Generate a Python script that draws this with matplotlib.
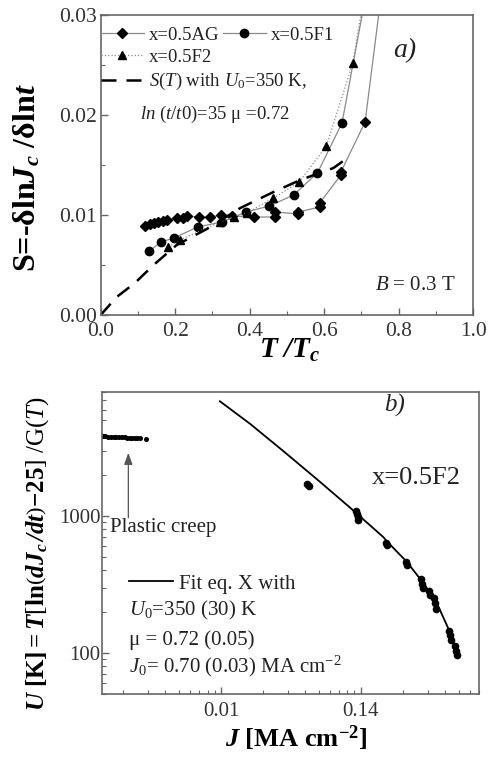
"""Creep rate S(T) and U(J) panels for the x=0.5 samples."""

import matplotlib

matplotlib.use("Agg")
import matplotlib.pyplot as plt
from matplotlib.ticker import (
    FixedFormatter,
    FixedLocator,
    LogLocator,
    MultipleLocator,
    NullFormatter,
)

plt.rcParams["font.family"] = ["Liberation Serif", "DejaVu Serif"]
plt.rcParams["mathtext.fontset"] = "custom"
plt.rcParams["mathtext.rm"] = "Liberation Serif"
plt.rcParams["mathtext.it"] = "Liberation Serif:italic"
plt.rcParams["mathtext.bf"] = "Liberation Serif:bold"
plt.rcParams["mathtext.bfit"] = "Liberation Serif:bold:italic"

# --- panel a) : S = -dlnJc/dlnt vs T/Tc
t_ag = [0.119, 0.133, 0.144, 0.155, 0.167, 0.177, 0.206, 0.220, 0.233, 0.264,
        0.294, 0.323, 0.352, 0.412, 0.469, 0.469, 0.531, 0.531, 0.588, 0.588,
        0.645, 0.645, 0.710, 0.760]
s_ag = [0.0089, 0.0091, 0.0092, 0.0093, 0.0094, 0.0095, 0.0097, 0.0097, 0.0099,
        0.0098, 0.0098, 0.0100, 0.0099, 0.0098, 0.0098, 0.0103, 0.0101, 0.0103,
        0.0108, 0.0112, 0.0140, 0.0143, 0.0193, 0.0340]

t_f1 = [0.131, 0.162, 0.197, 0.260, 0.325, 0.390, 0.453, 0.518, 0.582, 0.648, 0.722]
s_f1 = [0.0064, 0.0073, 0.0077, 0.0088, 0.0093, 0.0103, 0.0109, 0.0120, 0.0142,
        0.0192, 0.0340]

t_f2 = [0.182, 0.213, 0.321, 0.357, 0.392, 0.464, 0.533, 0.606, 0.677, 0.712]
s_f2 = [0.0068, 0.0075, 0.0093, 0.0098, 0.0102, 0.0117, 0.0133, 0.0169, 0.0252,
        0.0330]

t_model = [0.0, 0.043, 0.092, 0.142, 0.204, 0.285, 0.375, 0.464, 0.536, 0.625, 0.666]
s_model = [0.0, 0.0018, 0.0032, 0.0050, 0.0070, 0.0086, 0.0107, 0.0123, 0.0135,
           0.0147, 0.0158]

# --- panel b) : U vs J for x=0.5F2
j_plastic = [0.00142, 0.00148, 0.00155, 0.00162, 0.00170, 0.00178, 0.00186,
             0.00195, 0.00204, 0.00213, 0.00222, 0.00232, 0.00242, 0.00252,
             0.00262, 0.00290]
u_plastic = [3860, 3830, 3810, 3800, 3790, 3780, 3770, 3760, 3750, 3745, 3740,
             3730, 3720, 3710, 3700, 3650]

j_data = [0.0415, 0.0425, 0.092, 0.094, 0.095, 0.096, 0.152, 0.155, 0.211, 0.215,
          0.268, 0.272, 0.276, 0.305, 0.312, 0.335, 0.340, 0.345, 0.430, 0.435,
          0.440, 0.475, 0.480, 0.485]
u_data = [1700, 1660, 1080, 1030, 980, 940, 640, 615, 460, 440, 345, 320, 300,
          285, 265, 250, 230, 210, 145, 135, 125, 112, 104, 97]

j_fit = [0.0098, 0.0162, 0.0279, 0.0484, 0.0838, 0.145, 0.153, 0.213, 0.281,
         0.350, 0.436, 0.500]
u_fit = [6900, 4700, 2980, 1860, 1150, 700, 655, 463, 322, 230, 140, 93]

x_tick_labels = ["0.01", "0.14"]

GREY = "#8a8a8a"
SPINE = "#666666"
TICKTXT = "#333333"
INK = "#222222"


def style_axes(ax, size):
    for sp in ax.spines.values():
        sp.set_color(SPINE)
        sp.set_linewidth(1.2)
    ax.tick_params(which="both", direction="in", top=False, right=False,
                   color=SPINE, labelcolor=TICKTXT, labelsize=size)
    ax.tick_params(which="major", length=5, width=1.0)
    ax.tick_params(which="minor", length=3, width=0.8)


fig = plt.figure(figsize=(4.9, 7.63), dpi=100)

# ---------------- panel a
ax1 = fig.add_axes([0.2055, 0.5872, 0.760, 0.3931])
ax1.plot(t_ag, s_ag, color=GREY, lw=0.9, marker="D", ms=5.5, mfc="black",
         mec="black", label="x=0.5AG")
ax1.plot(t_f1, s_f1, color=GREY, lw=0.9, marker="o", ms=6, mfc="black",
         mec="black", label="x=0.5F1")
ax1.plot(t_f2, s_f2, color=GREY, lw=0.9, ls=":", marker="^", ms=6, mfc="black",
         mec="black", label="x=0.5F2")
ax1.plot(t_model, s_model, color="black", lw=1.8, ls=(0, (6, 4)),
         label=r"$S$($T$) with $U_{\mathit{0}}$=350 K,")

ax1.set_xlim(0, 1.0)
ax1.set_ylim(0, 0.03)
ax1.xaxis.set_minor_locator(MultipleLocator(0.1))
ax1.yaxis.set_minor_locator(MultipleLocator(0.005))
ax1.set_xticks([0.0, 0.2, 0.4, 0.6, 0.8, 1.0],
               ["0.0", "0.2", "0.4", "0.6", "0.8", "1.0"])
ax1.set_yticks([0.0, 0.01, 0.02, 0.03], ["0.00", "0.01", "0.02", "0.03"])
style_axes(ax1, 15.5)
ax1.tick_params(axis="x", pad=5)
ax1.tick_params(axis="y", pad=3)

handles, labels = ax1.get_legend_handles_labels()
leg_kw = dict(loc="center left", frameon=False, fontsize=13.5, borderpad=0,
              borderaxespad=0, handlelength=2.3, handletextpad=0.25,
              labelcolor=INK)
leg1 = ax1.legend(handles[:2], labels[:2], ncol=2, columnspacing=0.2,
                  bbox_to_anchor=(0.0, 0.933), **leg_kw)
ax1.add_artist(leg1)
leg2 = ax1.legend([handles[2]], [labels[2]], bbox_to_anchor=(0.0, 0.860), **leg_kw)
ax1.add_artist(leg2)
ax1.legend([handles[3]], [labels[3]], bbox_to_anchor=(0.0, 0.778), **leg_kw)

ax1.text(0.106, 0.667, r"$ln$ ($t$/$t0$)=35 μ =0.72", transform=ax1.transAxes,
         fontsize=13.5, va="center", ha="left", color=INK)
ax1.text(0.817, 0.883, "a)", transform=ax1.transAxes, fontsize=20,
         style="italic", ha="center", va="center", color=INK)
ax1.text(0.952, 0.097, r"$B$ = 0.3 T", transform=ax1.transAxes, fontsize=15,
         ha="right", va="center", color=INK)

ax1.set_xlabel(r"$\mathbfit{T\ /T_c}$", fontsize=21, va="center")
ax1.xaxis.set_label_coords(0.508, -0.117)
ax1.set_ylabel(r"S=-δln$\mathbfit{J}_{\mathbfit{c}}$ /δln$\mathbfit{t}$",
               fontsize=23, fontweight="bold", va="center")
ax1.yaxis.set_label_coords(-0.197, 0.457)

# ---------------- panel b
ax2 = fig.add_axes([0.2076, 0.0904, 0.770, 0.3962])
ax2.set_xscale("log")
ax2.set_yscale("log")
ax2.plot(j_plastic, u_plastic, ls="none", marker="o", ms=2.6, color="black")
ax2.plot(j_data, u_data, ls="none", marker="o", ms=4.5, color="black")
fit_line, = ax2.plot(j_fit, u_fit, color="black", lw=1.3)

ax2.set_xlim(0.0014, 0.70)
ax2.set_ylim(50, 8100)
ax2.xaxis.set_major_locator(FixedLocator([0.01, 0.1]))
ax2.xaxis.set_major_formatter(FixedFormatter(x_tick_labels))
ax2.xaxis.set_minor_locator(LogLocator(base=10, subs=range(2, 10)))
ax2.xaxis.set_minor_formatter(NullFormatter())
ax2.yaxis.set_major_locator(FixedLocator([100, 1000]))
ax2.yaxis.set_major_formatter(FixedFormatter(["100", "1000"]))
ax2.yaxis.set_minor_locator(LogLocator(base=10, subs=range(2, 10)))
ax2.yaxis.set_minor_formatter(NullFormatter())
style_axes(ax2, 15)
ax2.tick_params(axis="x", pad=6)
ax2.tick_params(axis="y", pad=1)

ax2.annotate("", xy=(0.00217, 2900), xytext=(0.00217, 970),
             arrowprops=dict(arrowstyle="-|>,head_length=0.5,head_width=0.18",
                             color="#555555", lw=0.9, mutation_scale=14,
                             shrinkA=0, shrinkB=0))
ax2.text(0.022, 0.552, "Plastic creep", transform=ax2.transAxes, fontsize=15,
         ha="left", va="center", color=INK)
ax2.text(0.833, 0.714, "x=0.5F2", transform=ax2.transAxes, fontsize=19,
         ha="center", va="center", color=INK)
ax2.text(0.775, 0.955, "b)", transform=ax2.transAxes, fontsize=18,
         style="italic", ha="center", va="center", color=INK)

ax2.legend([fit_line], ["Fit eq. X with"], loc="center left",
           bbox_to_anchor=(0.072, 0.364), frameon=False, fontsize=15,
           borderpad=0, borderaxespad=0, handlelength=2.1, handletextpad=0.3,
           labelcolor=INK)
param_lines = [
    (0.278, r"$U_{\mathit{0}}$=350 (30) K"),
    (0.179, "μ = 0.72 (0.05)"),
    (0.090, r"$J_{\mathit{0}}$= 0.70 (0.03) MA cm$^{\mathregular{-2}}$"),
]
for ypos, txt in param_lines:
    ax2.text(0.072, ypos, txt, transform=ax2.transAxes, fontsize=15,
             ha="left", va="center", color=INK)

ax2.set_xlabel(r"$\mathbfit{J}$ [MA cm$^{\mathbf{-2}}$]", fontsize=19,
               fontweight="bold", va="center")
ax2.xaxis.set_label_coords(0.515, -0.146)
ax2.set_ylabel(
    r"$\mathbfit{U}\ \mathbf{[K]}\mathbf{=}\mathbfit{T}\left[\mathbf{ln}"
    r"\left(\mathbfit{dJ}_{\mathbfit{c}}\mathbfit{\,/dt}\right)\mathbf{-25}\right]$"
    r" /G($T$)",
    fontsize=18, va="center")
ax2.yaxis.set_label_coords(-0.171, 0.466)

fig.savefig("out.png", dpi=100)
